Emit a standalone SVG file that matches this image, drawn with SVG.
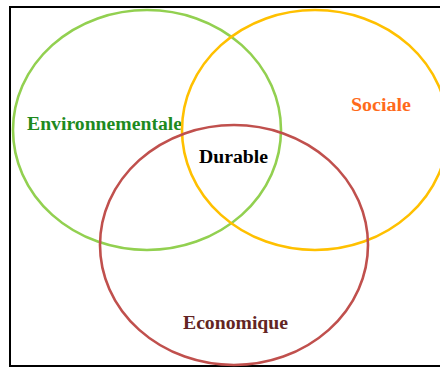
<svg xmlns="http://www.w3.org/2000/svg" width="440" height="368" viewBox="0 0 440 368">
<style>
.c{fill:none;stroke-width:2.6}
.t{font-family:"Liberation Serif","Times New Roman",serif;font-weight:bold;font-size:18px}
</style>
<rect x="0" y="0" width="440" height="368" fill="#fff"/>
<rect x="10" y="7" width="440" height="359" fill="none" stroke="#000" stroke-width="2"/>
<g id="env">
<ellipse class="c" cx="147" cy="130" rx="134" ry="120" stroke="#92D050"/>
<text class="t" x="27" y="130" fill="#1E8A1E" textLength="155" lengthAdjust="spacingAndGlyphs">Environnementale</text>
</g>
<g id="soc">
<ellipse class="c" cx="315" cy="130" rx="133" ry="120" stroke="#FFC000"/>
<text class="t" x="351" y="111" fill="#FF6A1A" textLength="60" lengthAdjust="spacingAndGlyphs">Sociale</text>
</g>
<g id="eco">
<ellipse class="c" cx="234" cy="245" rx="134" ry="120" stroke="#C0504D"/>
<text class="t" x="183" y="329" fill="#632523" textLength="105" lengthAdjust="spacingAndGlyphs">Economique</text>
</g>
<g id="dur">
<text class="t" x="199" y="163" fill="#000" textLength="69" lengthAdjust="spacingAndGlyphs">Durable</text>
</g>
<g id="connectors"></g>
</svg>
